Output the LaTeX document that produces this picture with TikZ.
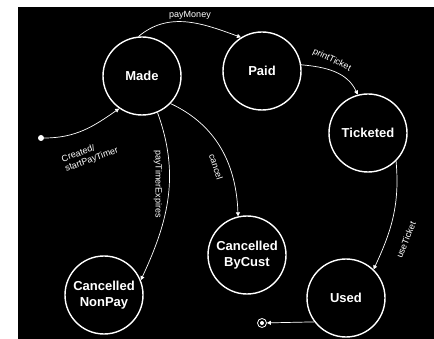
\documentclass[tikz,border=0pt]{standalone}
\usepackage{fontspec}
\setmainfont{Liberation Sans}
\usetikzlibrary{arrows.meta}
\begin{document}
\begin{tikzpicture}[x=1pt,y=-1pt,
  st/.style={circle,draw=white,line width=1.4pt,minimum size=78pt,inner sep=0pt,text=white,
    font=\fontsize{13}{16}\selectfont\bfseries,align=center},
  tr/.style={draw=white,line width=0.7pt,-{Triangle[length=4pt,width=4pt]}},
  lb/.style={text=white,font=\fontsize{9}{10}\selectfont,inner sep=0pt,align=left}]
\fill[white] (0,0) rectangle (434,339);
\fill[black] (18,7) rectangle (434,339);
\useasboundingbox (0,0) rectangle (434,339);
% states
\node[st] (made) at (142,76) {Made};
\node[st] (paid) at (262,71) {Paid};
\node[st] (tick) at (368,133) {Ticketed};
\node[st] (cbc) at (247,255) {Cancelled\\ByCust};
\node[st] (cnp) at (104,295) {Cancelled\\NonPay};
\node[st] (used) at (346,298) {Used};
\node[circle,fill=white,inner sep=0pt,minimum size=6pt] (init) at (41,138) {};
\node[circle,draw=white,line width=0.8pt,inner sep=0pt,minimum size=9pt] (fin) at (262,323) {};
\node[circle,fill=white,inner sep=0pt,minimum size=4pt] (finc) at (fin.center) {};
% transitions
\draw[tr] (made.95) to[out=40,in=160] (paid.122);
\draw[tr] (paid.9) to[out=-5,in=115] (tick.105);
\draw[tr] (tick.-45) to[out=-85,in=65] (used.46);
\draw[tr] (made.-67) to[out=-70,in=65] (cnp.22);
\draw[tr] (made.-44) to[out=-25,in=92] (cbc.103);
\draw[tr] (init) to[out=0,in=215] (made.235);
\draw[tr] (used.217) -- (fin);
% labels
\node[lb] (l1) at (190,15) {payMoney};
\node[lb,rotate=-26] (l2) at (332,60) {printTicket};
\node[lb,rotate=68] (l3) at (406,240) {useTicket};
\node[lb,rotate=-90] (l4) at (158,184) {payTimerExpires};
\node[lb,rotate=-72] (l5) at (216,167) {cancel};
\node[lb,rotate=20] (l6) at (90,155) {Created/\\startPayTimer};
\end{tikzpicture}
\end{document}
